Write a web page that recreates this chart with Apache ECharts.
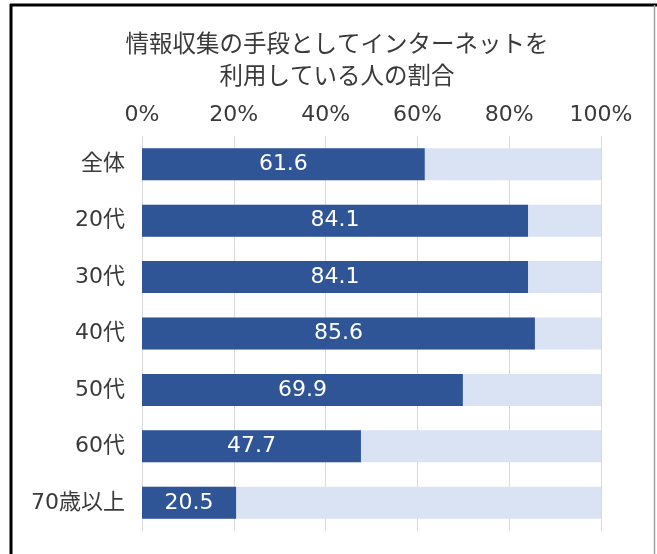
<!DOCTYPE html>
<html>
<head>
<meta charset="utf-8">
<script src="https://cdn.jsdelivr.net/npm/echarts@6/dist/echarts.min.js"></script>
<style>
html,body{margin:0;padding:0;background:#fff;}
#chart{width:657px;height:554px;}
</style>
</head>
<body>
<div id="chart"></div>
<script>
var titleText = '情報収集の手段としてインターネットを\n利用している人の割合';
var categories = ['全体', '20代', '30代', '40代', '50代', '60代', '70歳以上'];
var values = [61.6, 84.1, 84.1, 85.6, 69.9, 47.7, 20.5];
var xTicks = [0, 20, 40, 60, 80, 100];

var FONT = '"DejaVu Sans", "Noto Sans CJK JP", sans-serif';
var CJK = '"Noto Sans CJK JP", sans-serif';
var chart = echarts.init(document.getElementById('chart'), null, {renderer: 'canvas'});
chart.setOption({
  animation: false,
  backgroundColor: '#ffffff',
  title: {
    text: titleText,
    left: 332,
    textAlign: 'center',
    top: 22,
    textStyle: {fontFamily: CJK, fontSize: 23.5, fontWeight: 'normal', color: '#3a3a3a', lineHeight: 32}
  },
  grid: {left: 142, right: 56, top: 136, bottom: 23, containLabel: false},
  xAxis: {
    type: 'value',
    position: 'top',
    min: xTicks[0],
    max: xTicks[xTicks.length - 1],
    interval: 20,
    axisLine: {show: false},
    axisTick: {show: false},
    axisLabel: {
      formatter: '{value}%',
      fontFamily: FONT,
      fontSize: 22,
      color: '#3a3a3a',
      margin: 10
    },
    splitLine: {show: true, lineStyle: {color: '#d9d9d9', width: 1}}
  },
  yAxis: {
    type: 'category',
    inverse: true,
    data: categories,
    axisLine: {show: false},
    axisTick: {show: false},
    axisLabel: {fontFamily: FONT, fontSize: 22, color: '#3a3a3a', margin: 17}
  },
  series: [{
    type: 'bar',
    data: values,
    barWidth: 32,
    itemStyle: {color: '#2f5597'},
    showBackground: true,
    backgroundStyle: {color: '#dae3f3'},
    label: {
      show: true,
      position: 'inside',
      color: '#ffffff',
      fontFamily: FONT,
      fontSize: 22,
      formatter: function (p) { return p.value.toFixed(1); }
    }
  }],
  graphic: [
    {type: 'line', shape: {x1: 11, y1: 4, x2: 11, y2: 560}, style: {stroke: '#000', lineWidth: 3}},
    {type: 'line', shape: {x1: 10, y1: 5, x2: 657, y2: 5}, style: {stroke: '#000', lineWidth: 3}},
    {type: 'line', shape: {x1: 654.5, y1: 5, x2: 654.5, y2: 560}, style: {stroke: '#a0a0a0', lineWidth: 1.5}}
  ]
});
</script>
</body>
</html>
